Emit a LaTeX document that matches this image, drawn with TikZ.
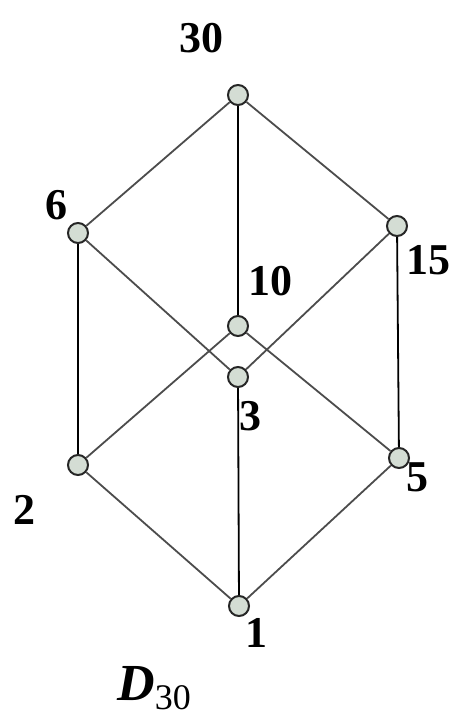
\documentclass[tikz,border=0pt]{standalone}
\usepackage{fontspec}
\setmainfont{Liberation Serif}
\usetikzlibrary{positioning}

\begin{document}
\begin{tikzpicture}[x=0.5pt,y=-0.5pt,ele/.style={fill=green!12!gray!30,draw=black!85,circle,minimum size=10pt,inner sep=0pt,line width=1pt},lab/.style={font=\fontsize{22}{22}\selectfont\bfseries,inner sep=0pt},edge/.style={draw=black!70,line width=0.9pt}]
      \useasboundingbox (0,0) rectangle (459,717);
      \node[ele] (n30) at (238,95) {};
      \node[ele] (n6) at (78,233) {};
      \node[ele] (n15) at (397,226) {};
      \node[ele] (n10) at (238,326) {};
      \node[ele] (n3) at (238,377) {};
      \node[ele] (n2) at (78,465) {};
      \node[ele] (n5) at (399,458) {};
      \node[ele] (n1) at (239,606) {};

      \node[lab] (l30) at (201,38) {30};
      \node[lab] (l6) at (56,205) {6};
      \node[lab] (l15) at (428,260) {15};
      \node[lab] (l10) at (270,281) {10};
      \node[lab] (l3) at (250,416) {3};
      \node[lab] (l2) at (24,510) {2};
      \node[lab] (l5) at (417,477) {5};
      \node[lab] (l1) at (256,633) {1};
      \node[lab,font=\fontsize{26}{26}\selectfont\bfseries] (name) at (154,688) {\textit{D}\raisebox{-0.4ex}{\mdseries\fontsize{18}{18}\selectfont 30}};

      \begin{scope}[on background layer/.try]
      \draw[edge] (n30) -- (n6);
      \draw[edge] (n30) -- (n15);
      \draw[edge,draw=black] (n30) -- (n10);
      \draw[edge,draw=black] (n6) -- (n2);
      \draw[edge] (n6) -- (n3);
      \draw[edge] (n15) -- (n3);
      \draw[edge,draw=black] (n15) -- (n5);
      \draw[edge] (n10) -- (n2);
      \draw[edge] (n10) -- (n5);
      \draw[edge] (n2) -- (n1);
      \draw[edge,draw=black] (n3) -- (n1);
      \draw[edge] (n5) -- (n1);
      \end{scope}
     \end{tikzpicture}
\end{document}
